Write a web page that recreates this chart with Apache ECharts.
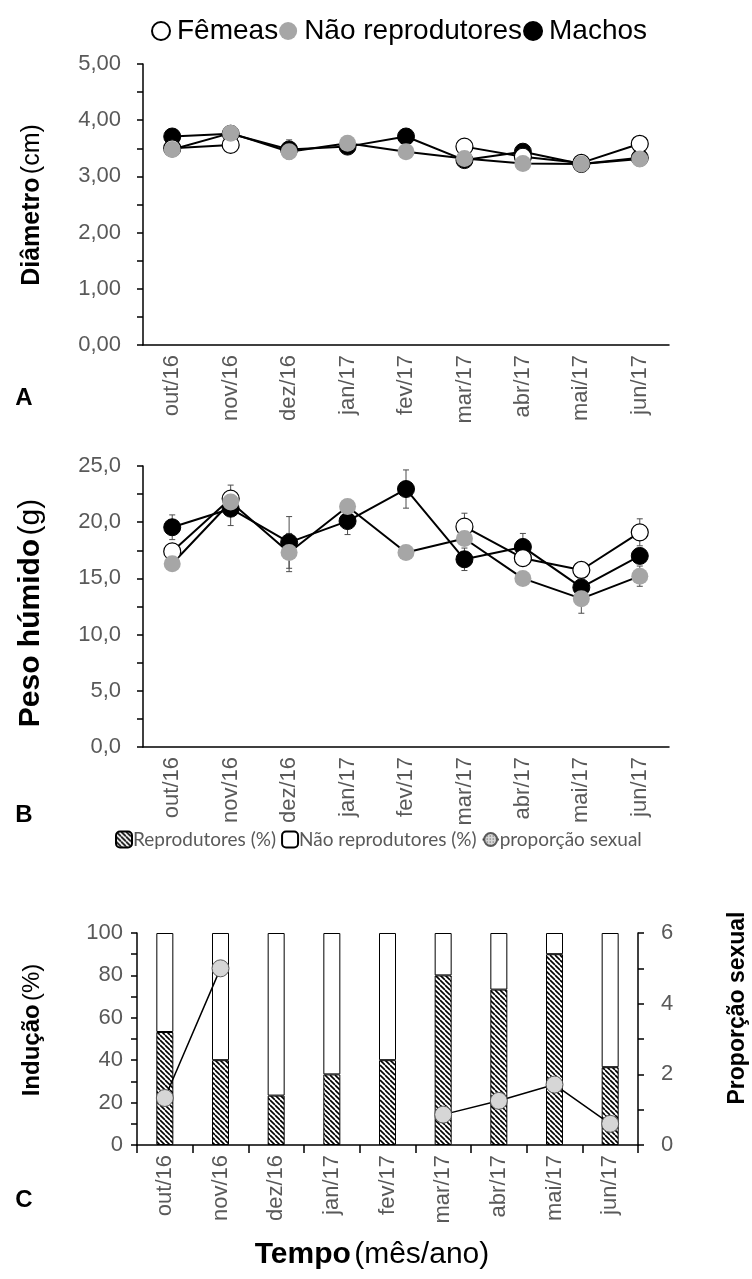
<!DOCTYPE html>
<html>
<head>
<meta charset="utf-8">
<script src="https://cdn.jsdelivr.net/npm/echarts@6/dist/echarts.min.js"></script>
<style>
  html, body { margin: 0; padding: 0; background: #fff; }
  #chart { width: 752px; height: 1279px; }
</style>
</head>
<body>
<div id="chart"></div>
<script>
// Months of sampling
const months = ['out/16', 'nov/16', 'dez/16', 'jan/17', 'fev/17', 'mar/17', 'abr/17', 'mai/17', 'jun/17'];

// A — diâmetro (cm), média e erro
const diamFemeas = [3.50, 3.56, null, null, null, 3.53, 3.35, 3.24, 3.58];
const diamNaoRep = [3.48, 3.77, 3.44, 3.59, 3.44, 3.32, 3.23, 3.22, 3.31];
const diamMachos = [3.71, 3.76, 3.48, 3.53, 3.71, 3.29, 3.44, 3.22, 3.33];
const diamFemeasErr = [0.08, 0.10, null, null, null, 0.08, 0.08, 0.06, 0.08];
const diamNaoRepErr = [0.06, 0.08, 0.08, 0.08, 0.06, 0.06, 0.06, 0.06, 0.06];
const diamMachosErr = [0.08, 0.08, 0.17, 0.08, 0.08, 0.08, 0.08, 0.06, 0.08];

// B — peso húmido (g), média e erro
const pesoFemeas = [17.4, 22.1, null, null, null, 19.6, 16.8, 15.75, 19.1];
const pesoNaoRep = [16.3, 21.8, 17.3, 21.4, 17.3, 18.55, 15.0, 13.2, 15.2];
const pesoMachos = [19.55, 21.2, 18.2, 20.1, 22.95, 16.7, 17.8, 14.2, 17.0];
const pesoFemeasErr = [0.6, 1.2, null, null, null, 1.2, 0.6, 0.6, 1.2];
const pesoNaoRepErr = [0.5, 0.6, 1.7, 0.6, 0.5, 0.6, 0.6, 1.3, 0.9];
const pesoMachosErr = [1.1, 1.5, 2.3, 1.2, 1.7, 1.0, 1.2, 0.6, 0.6];

// C — indução (%) e proporção sexual
const reprodutores = [53.3, 40.0, 23.3, 33.3, 40.0, 80.0, 73.3, 90.0, 36.7];
const naoReprodutores = [46.7, 60.0, 76.7, 66.7, 60.0, 20.0, 26.7, 10.0, 63.3];
const proporcaoSexual = [1.33, 5.0, null, null, null, 0.86, 1.25, 1.71, 0.6];

const FONT = '"Liberation Sans", Arial, sans-serif';
const GRAY_TXT = '#595959';
const TICK_FS = 22;

// fill patterns
function hatchCanvas() {
  const s = 5;
  const c = document.createElement('canvas');
  c.width = s; c.height = s;
  const g = c.getContext('2d');
  g.fillStyle = '#fff'; g.fillRect(0, 0, s, s);
  g.strokeStyle = '#000'; g.lineWidth = 1.6;
  g.beginPath();
  for (const k of [-s, 0, s]) { g.moveTo(k, 0); g.lineTo(k + s, s); }
  g.stroke();
  return c;
}
function dotCanvas() {
  const c = document.createElement('canvas');
  c.width = 3; c.height = 3;
  const g = c.getContext('2d');
  g.fillStyle = '#d6d6d6'; g.fillRect(0, 0, 3, 3);
  g.fillStyle = '#3c3c3c'; g.fillRect(1, 1, 1, 1);
  return c;
}
const hatchFill = { image: hatchCanvas(), repeat: 'repeat' };
const dotFill = { image: dotCanvas(), repeat: 'repeat' };

const styles = {
  'Fêmeas': { color: '#fff', borderColor: '#000', borderWidth: 1.2 },
  'Não reprodutores': { color: '#a6a6a6', borderColor: '#a6a6a6', borderWidth: 0 },
  'Machos': { color: '#000', borderColor: '#000', borderWidth: 1 }
};

function lineSeries(name, data, gi) {
  return {
    name, type: 'line', data, xAxisIndex: gi, yAxisIndex: gi,
    symbol: 'circle', symbolSize: 17, connectNulls: false,
    lineStyle: { color: '#000', width: 2 },
    itemStyle: styles[name],
    emphasis: { disabled: true }, z: 3
  };
}

function errorSeries(means, errs, gi) {
  const data = [];
  means.forEach((m, i) => { if (m != null && errs[i] != null) data.push([i, m, errs[i]]); });
  return {
    type: 'custom', xAxisIndex: gi, yAxisIndex: gi, data, z: 1, silent: true,
    encode: { x: 0, y: 1 },
    renderItem(params, api) {
      const x = api.value(0), m = api.value(1), e = api.value(2);
      const top = api.coord([x, m + e]);
      const bot = api.coord([x, m - e]);
      const w = 3;
      const st = { stroke: '#4d4d4d', lineWidth: 1 };
      return {
        type: 'group', children: [
          { type: 'line', shape: { x1: top[0], y1: top[1], x2: bot[0], y2: bot[1] }, style: st },
          { type: 'line', shape: { x1: top[0] - w, y1: top[1], x2: top[0] + w, y2: top[1] }, style: st },
          { type: 'line', shape: { x1: bot[0] - w, y1: bot[1], x2: bot[0] + w, y2: bot[1] }, style: st }
        ]
      };
    }
  };
}

const axisLineStyle = { color: '#000', width: 1.5 };

function catAxis(gi, ticks) {
  return {
    gridIndex: gi, type: 'category', data: months,
    axisLine: { lineStyle: axisLineStyle },
    axisTick: ticks ? { show: true, length: 8, lineStyle: axisLineStyle } : { show: false },
    axisLabel: { rotate: 90, interval: 0, color: GRAY_TXT, fontSize: TICK_FS, fontFamily: FONT, margin: 10 },
    splitLine: { show: false }
  };
}

function valAxis(gi, min, max, step, fmt, margin, pos) {
  return {
    gridIndex: gi, type: 'value', min, max, interval: step, position: pos || 'left',
    axisLine: { show: true, lineStyle: axisLineStyle },
    axisTick: { show: true, length: 6, lineStyle: axisLineStyle },
    splitLine: { show: false },
    axisLabel: { formatter: fmt, color: GRAY_TXT, fontSize: TICK_FS, fontFamily: FONT, margin }
  };
}

const isMult = (v, m) => Math.abs(v / m - Math.round(v / m)) < 1e-6;

const chart = echarts.init(document.getElementById('chart'), null, { renderer: 'canvas' });

const titleText = (x, y, bold, normal, size) => ({
  type: 'text', x, y, rotation: Math.PI / 2,
  style: {
    text: normal ? `{b|${bold}} {n|${normal}}` : `{b|${bold}}`,
    rich: {
      b: { fontWeight: 'bold', fontSize: size, fontFamily: FONT, fill: '#000' },
      n: { fontSize: size, fontFamily: FONT, fill: '#000' }
    },
    align: 'center', verticalAlign: 'middle'
  }
});
const panelLetter = (x, y, t) => ({
  type: 'text', x, y,
  style: { text: t, fontSize: 24, fontWeight: 'bold', fontFamily: FONT, fill: '#000', align: 'center', verticalAlign: 'middle' }
});

chart.setOption({
  animation: false,
  backgroundColor: '#fff',
  grid: [
    { left: 143, top: 64, width: 526, height: 281 },
    { left: 143, top: 466, width: 526, height: 281 },
    { left: 137, top: 933, width: 501, height: 212 }
  ],
  legend: [
    {
      data: [
        { name: 'Fêmeas', icon: 'circle' },
        { name: 'Não reprodutores', icon: 'circle' },
        { name: 'Machos', icon: 'circle' }
      ],
      top: 12, left: 146, itemWidth: 18, itemHeight: 18, itemGap: 1,
      textStyle: { fontSize: 28, color: '#000', fontFamily: FONT, padding: [0, 0, 0, 2] },
      selectedMode: false
    },
    {
      data: ['Reprodutores (%)', 'Não reprodutores (%)', 'proporção sexual'],
      top: 825, left: 110, itemWidth: 16, itemHeight: 16, itemGap: 5,
      textStyle: { fontSize: 19, color: GRAY_TXT, fontFamily: 'Lato, sans-serif', padding: [0, 0, 0, -4] },
      selectedMode: false
    }
  ],
  xAxis: [catAxis(0, false), catAxis(1, false), catAxis(2, true)],
  yAxis: [
    valAxis(0, 0, 5, 0.5, v => isMult(v, 1) ? v.toFixed(2).replace('.', ',') : '', 22),
    valAxis(1, 0, 25, 2.5, v => isMult(v, 5) ? v.toFixed(1).replace('.', ',') : '', 22),
    valAxis(2, 0, 100, 10, v => isMult(v, 20) ? String(v) : '', 14),
    valAxis(2, 0, 6, 1, v => isMult(v, 2) ? String(v) : '', 23, 'right')
  ],
  series: [
    errorSeries(diamMachos, diamMachosErr, 0),
    errorSeries(diamFemeas, diamFemeasErr, 0),
    errorSeries(diamNaoRep, diamNaoRepErr, 0),
    lineSeries('Machos', diamMachos, 0),
    lineSeries('Fêmeas', diamFemeas, 0),
    lineSeries('Não reprodutores', diamNaoRep, 0),

    errorSeries(pesoMachos, pesoMachosErr, 1),
    errorSeries(pesoFemeas, pesoFemeasErr, 1),
    errorSeries(pesoNaoRep, pesoNaoRepErr, 1),
    lineSeries('Machos', pesoMachos, 1),
    lineSeries('Fêmeas', pesoFemeas, 1),
    lineSeries('Não reprodutores', pesoNaoRep, 1),

    {
      name: 'Reprodutores (%)', type: 'bar', stack: 'ind', data: reprodutores,
      xAxisIndex: 2, yAxisIndex: 2, barWidth: 17,
      itemStyle: { color: hatchFill, borderColor: '#000', borderWidth: 1 },
      emphasis: { disabled: true }
    },
    {
      name: 'Não reprodutores (%)', type: 'bar', stack: 'ind', data: naoReprodutores,
      xAxisIndex: 2, yAxisIndex: 2, barWidth: 17,
      itemStyle: { color: '#fff', borderColor: '#000', borderWidth: 1 },
      emphasis: { disabled: true }
    },
    {
      name: 'proporção sexual', type: 'line', data: proporcaoSexual,
      xAxisIndex: 2, yAxisIndex: 3, connectNulls: false,
      symbol: 'circle', symbolSize: 17,
      lineStyle: { color: '#000', width: 1.5 },
      itemStyle: { color: dotFill, borderColor: '#5a5a5a', borderWidth: 1 },
      emphasis: { disabled: true }, z: 4
    }
  ],
  graphic: [
    titleText(32, 205, 'Diâmetro', '(cm)', 25),
    titleText(31, 613, 'Peso húmido', '(g)', 30),
    titleText(32, 1030, 'Indução', '(%)', 24),
    titleText(738, 1008, 'Proporção sexual', null, 23),
    {
      type: 'text', x: 372, y: 1255,
      style: {
        text: '{b|Tempo} {n|(mês/ano)}',
        rich: {
          b: { fontWeight: 'bold', fontSize: 30, fontFamily: FONT, fill: '#000' },
          n: { fontSize: 30, fontFamily: FONT, fill: '#000' }
        },
        align: 'center', verticalAlign: 'middle'
      }
    },
    panelLetter(24, 398, 'A'),
    panelLetter(24, 815, 'B'),
    panelLetter(24, 1200, 'C')
  ]
});
</script>
</body>
</html>
